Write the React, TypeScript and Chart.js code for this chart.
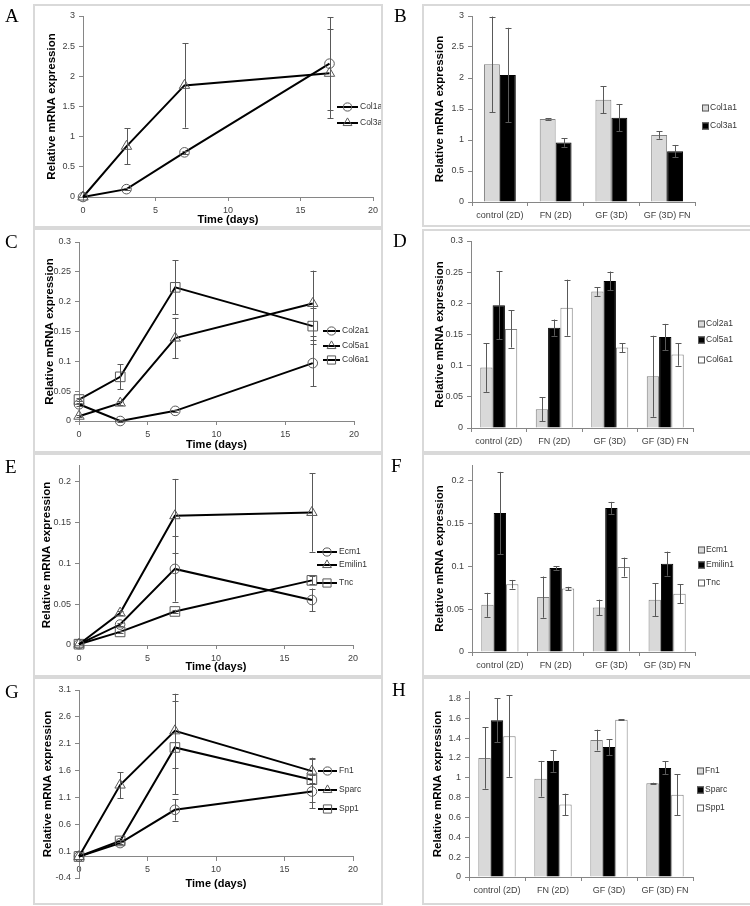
import React, { useEffect, useRef } from 'react';
import { Chart, registerables } from 'chart.js';

Chart.register(...registerables);

const SANS = "'Liberation Sans', Arial, Helvetica, sans-serif";
const SERIF = "'Liberation Serif', 'Times New Roman', serif";
const AXIS_COLOR = '#868686';
const TICK_COLOR = '#404040';
const ERR_COLOR = '#595959';

// ---------- shared categories / ticks ----------
const DAYS = [0, 3, 7, 17];
const DAY_TICKS = [0, 5, 10, 15, 20];
const GROUPS = ['control (2D)', 'FN (2D)', 'GF (3D)', 'GF (3D) FN'];
const Y_TITLE = 'Relative mRNA expression';
const X_TITLE = 'Time (days)';

// ---------- Panel A ----------
const A_LABELS = ['Col1a', 'Col3a'];
const A_COL1A = [0, 0.13, 0.74, 2.21];
const A_COL1A_ERR = [0, 0.02, 0.03, 0.77];
const A_COL3A = [0, 0.84, 1.85, 2.05];
const A_COL3A_ERR = [0, 0.3, 0.7, 0.74];
const A_Y_TICKS = [0, 0.5, 1, 1.5, 2, 2.5, 3];

// ---------- Panel B ----------
const B_LABELS = ['Col1a1', 'Col3a1'];
const B_COL1A1 = [2.22, 1.34, 1.65, 1.08];
const B_COL1A1_ERR = [0.77, 0.01, 0.22, 0.06];
const B_COL3A1 = [2.05, 0.96, 1.36, 0.82];
const B_COL3A1_ERR = [0.76, 0.07, 0.22, 0.1];
const B_Y_TICKS = [0, 0.5, 1, 1.5, 2, 2.5, 3];

// ---------- Panel C ----------
const C_LABELS = ['Col2a1', 'Col5a1', 'Col6a1'];
const C_COL2A1 = [0.028, 0.0, 0.017, 0.097];
const C_COL2A1_ERR = [0.003, 0.001, 0.002, 0.039];
const C_COL5A1 = [0.008, 0.03, 0.139, 0.197];
const C_COL5A1_ERR = [0.002, 0.003, 0.034, 0.055];
const C_COL6A1 = [0.036, 0.074, 0.224, 0.159];
const C_COL6A1_ERR = [0.003, 0.021, 0.045, 0.03];
const C_Y_TICKS = [0, 0.05, 0.1, 0.15, 0.2, 0.25, 0.3];

// ---------- Panel D ----------
const D_LABELS = ['Col2a1', 'Col5a1', 'Col6a1'];
const D_COL2A1 = [0.097, 0.03, 0.219, 0.083];
const D_COL2A1_ERR = [0.039, 0.019, 0.007, 0.065];
const D_COL5A1 = [0.197, 0.161, 0.236, 0.146];
const D_COL5A1_ERR = [0.055, 0.013, 0.015, 0.021];
const D_COL6A1 = [0.159, 0.193, 0.129, 0.118];
const D_COL6A1_ERR = [0.03, 0.045, 0.007, 0.018];
const D_Y_TICKS = [0, 0.05, 0.1, 0.15, 0.2, 0.25, 0.3];

// ---------- Panel E ----------
const E_LABELS = ['Ecm1', 'Emilin1', 'Tnc'];
const E_ECM1 = [0.001, 0.025, 0.093, 0.055];
const E_ECM1_ERR = [0, 0.002, 0.04, 0.014];
const E_EMILIN1 = [0.001, 0.039, 0.158, 0.162];
const E_EMILIN1_ERR = [0, 0.002, 0.045, 0.048];
const E_TNC = [0.001, 0.016, 0.041, 0.079];
const E_TNC_ERR = [0, 0.001, 0.002, 0.005];
const E_Y_TICKS = [0, 0.05, 0.1, 0.15, 0.2];

// ---------- Panel F ----------
const F_LABELS = ['Ecm1', 'Emilin1', 'Tnc'];
const F_ECM1 = [0.055, 0.064, 0.052, 0.061];
const F_ECM1_ERR = [0.014, 0.024, 0.009, 0.019];
const F_EMILIN1 = [0.162, 0.098, 0.168, 0.103];
const F_EMILIN1_ERR = [0.048, 0.002, 0.007, 0.014];
const F_TNC = [0.079, 0.074, 0.099, 0.068];
const F_TNC_ERR = [0.005, 0.002, 0.011, 0.011];
const F_Y_TICKS = [0, 0.05, 0.1, 0.15, 0.2];

// ---------- Panel G ----------
const G_LABELS = ['Fn1', 'Sparc', 'Spp1'];
const G_FN1 = [0, 0.25, 0.87, 1.21];
const G_FN1_ERR = [0, 0.02, 0.2, 0.31];
const G_SPARC = [0, 1.33, 2.34, 1.59];
const G_SPARC_ERR = [0, 0.24, 0.69, 0.22];
const G_SPP1 = [0, 0.29, 2.03, 1.43];
const G_SPP1_ERR = [0, 0.02, 0.87, 0.41];
const G_Y_TICKS = [-0.4, 0.1, 0.6, 1.1, 1.6, 2.1, 2.6, 3.1];

// ---------- Panel H ----------
const H_LABELS = ['Fn1', 'Sparc', 'Spp1'];
const H_FN1 = [1.2, 0.99, 1.38, 0.945];
const H_FN1_ERR = [0.31, 0.18, 0.105, 0.005];
const H_SPARC = [1.58, 1.17, 1.31, 1.1];
const H_SPARC_ERR = [0.22, 0.11, 0.08, 0.065];
const H_SPP1 = [1.42, 0.73, 1.585, 0.83];
const H_SPP1_ERR = [0.41, 0.11, 0.003, 0.205];
const H_Y_TICKS = [0, 0.2, 0.4, 0.6, 0.8, 1, 1.2, 1.4, 1.6, 1.8];

// ---------- styles ----------
const BAR_STYLES = [
  { fill: '#d9d9d9', border: '#7f7f7f' },
  { fill: '#000000', border: '#000000' },
  { fill: '#ffffff', border: '#7f7f7f' },
];
const MARKER_R: any = { circle: 4.8, triangle: 6, rect: 6.8 };

// ---------- plugins ----------
const errorBarsPlugin = {
  id: 'errorBars',
  afterDatasetsDraw(chart: any) {
    const ctx = chart.ctx;
    const yScale = chart.scales.y;
    chart.data.datasets.forEach((ds: any, i: number) => {
      if (!ds.errors) return;
      const meta = chart.getDatasetMeta(i);
      meta.data.forEach((el: any, j: number) => {
        const raw = ds.data[j];
        const v = typeof raw === 'number' ? raw : raw.y;
        const e = ds.errors[j];
        if (!e) return;
        const x = Math.round(el.x) + 0.5;
        const yTop = yScale.getPixelForValue(v + e);
        const yBot = yScale.getPixelForValue(v - e);
        ctx.save();
        ctx.strokeStyle = ERR_COLOR;
        ctx.lineWidth = 1;
        ctx.beginPath();
        ctx.moveTo(x, yTop);
        ctx.lineTo(x, yBot);
        ctx.moveTo(x - 3, Math.round(yTop) + 0.5);
        ctx.lineTo(x + 3, Math.round(yTop) + 0.5);
        ctx.moveTo(x - 3, Math.round(yBot) + 0.5);
        ctx.lineTo(x + 3, Math.round(yBot) + 0.5);
        ctx.stroke();
        ctx.restore();
      });
    });
  },
};

function drawMarker(ctx: any, kind: string, x: number, y: number, r: number) {
  ctx.beginPath();
  if (kind === 'circle') {
    ctx.arc(x, y, r, 0, Math.PI * 2);
  } else if (kind === 'triangle') {
    ctx.moveTo(x, y - r);
    ctx.lineTo(x + 0.866 * r, y + 0.5 * r);
    ctx.lineTo(x - 0.866 * r, y + 0.5 * r);
    ctx.closePath();
  } else {
    const s = r * Math.SQRT1_2;
    ctx.rect(x - s, y - s, 2 * s, 2 * s);
  }
  ctx.stroke();
}

function legendPlugin(spec: any) {
  return {
    id: 'panelLegend',
    afterDraw(chart: any) {
      const ctx = chart.ctx;
      const lg = spec.legend;
      ctx.save();
      ctx.font = `8.5px ${SANS}`;
      ctx.textBaseline = 'middle';
      ctx.textAlign = 'left';
      spec.series.forEach((s: any, i: number) => {
        const y = lg.ys[i];
        if (spec.kind === 'line') {
          ctx.strokeStyle = '#000';
          ctx.lineWidth = 2;
          ctx.beginPath();
          ctx.moveTo(lg.x0, y);
          ctx.lineTo(lg.x1, y);
          ctx.stroke();
          ctx.strokeStyle = '#595959';
          ctx.lineWidth = 1;
          drawMarker(ctx, s.marker, (lg.x0 + lg.x1) / 2, y, MARKER_R[s.marker] * 0.85);
        } else {
          const st = BAR_STYLES[i];
          ctx.fillStyle = st.fill;
          ctx.fillRect(lg.bx, y - 3.5, 7, 7);
          ctx.strokeStyle = '#595959';
          ctx.lineWidth = 1;
          ctx.strokeRect(lg.bx + 0.5, y - 3, 6, 6);
        }
        ctx.fillStyle = '#333';
        ctx.fillText(s.label, lg.tx, y);
      });
      ctx.restore();
    },
  };
}

// ---------- axis builders ----------
function yAxis(spec: any) {
  const lh = 11.5 * 1.2;
  return {
    type: 'linear',
    position: 'left',
    min: spec.yMin,
    max: spec.yMax,
    afterBuildTicks: (s: any) => {
      s.ticks = spec.yTicks.map((v: number) => ({ value: v }));
    },
    afterFit: (s: any) => {
      s.width = spec.area.l;
    },
    ticks: {
      callback: (v: any) => String(v),
      font: { family: SANS, size: 9 },
      color: TICK_COLOR,
      padding: 4,
      autoSkip: false,
    },
    grid: { drawOnChartArea: false, drawTicks: true, tickLength: 4, color: AXIS_COLOR },
    border: { display: true, color: AXIS_COLOR, width: 1 },
    title: {
      display: true,
      text: Y_TITLE,
      color: '#000',
      font: { family: SANS, size: 11.5, weight: 'bold' },
      padding: { top: spec.yTitleX - lh / 2, bottom: 0 },
    },
  };
}

function lineConfig(spec: any) {
  const { w, h } = spec.frame;
  const a = spec.area;
  const xH = spec.xAtZero ? 34 : h - a.b;
  const lh = 11 * 1.2;
  return {
    type: 'line',
    data: {
      datasets: spec.series.map((s: any) => ({
        label: s.label,
        data: DAYS.map((d, i) => ({ x: d, y: s.values[i] })),
        errors: s.errors,
        borderColor: '#000',
        borderWidth: 2,
        pointStyle: s.marker,
        pointRadius: MARKER_R[s.marker],
        pointBorderColor: '#595959',
        pointBorderWidth: 1,
        pointBackgroundColor: 'rgba(0,0,0,0)',
        tension: 0,
        fill: false,
        clip: false,
      })),
    },
    options: {
      responsive: false,
      animation: false,
      devicePixelRatio: 1,
      events: [],
      layout: {
        padding: { left: 0, top: a.t, right: w - a.r, bottom: spec.xAtZero ? h - a.b : 0 },
      },
      plugins: { legend: { display: false }, tooltip: { enabled: false } },
      scales: {
        x: {
          type: 'linear',
          min: 0,
          max: 20,
          position: spec.xAtZero ? { y: 0 } : 'bottom',
          afterBuildTicks: (s: any) => {
            s.ticks = DAY_TICKS.map((v) => ({ value: v }));
          },
          afterFit: (s: any) => {
            s.height = xH;
          },
          ticks: { font: { family: SANS, size: 9 }, color: TICK_COLOR, padding: 4, maxRotation: 0 },
          grid: { drawOnChartArea: false, drawTicks: true, tickLength: 4, color: AXIS_COLOR },
          border: { display: true, color: AXIS_COLOR, width: 1 },
          title: {
            display: true,
            text: X_TITLE,
            color: '#000',
            font: { family: SANS, size: 11, weight: 'bold' },
            padding: { top: 0, bottom: Math.max(0, xH - lh / 2 - spec.xTitleDy) },
          },
        },
        y: yAxis(spec),
      },
    },
    plugins: [errorBarsPlugin, legendPlugin(spec)],
  };
}

function barConfig(spec: any) {
  const { w, h } = spec.frame;
  const a = spec.area;
  const n = spec.series.length;
  return {
    type: 'bar',
    data: {
      labels: GROUPS,
      datasets: spec.series.map((s: any, i: number) => ({
        label: s.label,
        data: s.values,
        errors: s.errors,
        backgroundColor: BAR_STYLES[i].fill,
        borderColor: BAR_STYLES[i].border,
        borderWidth: 1,
        categoryPercentage: n / (n + 1.5),
        barPercentage: 1,
      })),
    },
    options: {
      responsive: false,
      animation: false,
      devicePixelRatio: 1,
      events: [],
      layout: { padding: { left: 0, top: a.t, right: w - a.r, bottom: 0 } },
      plugins: { legend: { display: false }, tooltip: { enabled: false } },
      scales: {
        x: {
          type: 'category',
          offset: true,
          afterFit: (s: any) => {
            s.height = h - a.b;
          },
          ticks: { font: { family: SANS, size: 9 }, color: TICK_COLOR, padding: 4, maxRotation: 0, autoSkip: false },
          grid: { offset: true, drawOnChartArea: false, drawTicks: true, tickLength: 4, color: AXIS_COLOR },
          border: { display: true, color: AXIS_COLOR, width: 1 },
        },
        y: yAxis(spec),
      },
    },
    plugins: [errorBarsPlugin, legendPlugin(spec)],
  };
}

// ---------- panel specs ----------
const PANELS: any[] = [
  {
    kind: 'line', letter: 'A', letterX: 5, letterY: 16,
    frame: { x: 33, y: 4, w: 350, h: 224 }, area: { l: 50, r: 340, t: 12, b: 193 },
    yMin: 0, yMax: 3, yTicks: A_Y_TICKS, yTitleX: 19, xTitleDy: 23,
    series: [
      { label: A_LABELS[0], values: A_COL1A, errors: A_COL1A_ERR, marker: 'circle' },
      { label: A_LABELS[1], values: A_COL3A, errors: A_COL3A_ERR, marker: 'triangle' },
    ],
    legend: { x0: 304, x1: 325, tx: 327, ys: [103, 119] },
  },
  {
    kind: 'bar', letter: 'B', letterX: 394, letterY: 16,
    frame: { x: 422, y: 4, w: 330, h: 223 }, area: { l: 50, r: 273, t: 12, b: 198 },
    yMin: 0, yMax: 3, yTicks: B_Y_TICKS, yTitleX: 18,
    series: [
      { label: B_LABELS[0], values: B_COL1A1, errors: B_COL1A1_ERR },
      { label: B_LABELS[1], values: B_COL3A1, errors: B_COL3A1_ERR },
    ],
    legend: { bx: 280, tx: 288, ys: [104, 122] },
  },
  {
    kind: 'line', letter: 'C', letterX: 5, letterY: 242,
    frame: { x: 33, y: 228, w: 350, h: 225 }, area: { l: 46, r: 321, t: 14, b: 193 },
    yMin: 0, yMax: 0.3, yTicks: C_Y_TICKS, yTitleX: 17, xTitleDy: 24,
    series: [
      { label: C_LABELS[0], values: C_COL2A1, errors: C_COL2A1_ERR, marker: 'circle' },
      { label: C_LABELS[1], values: C_COL5A1, errors: C_COL5A1_ERR, marker: 'triangle' },
      { label: C_LABELS[2], values: C_COL6A1, errors: C_COL6A1_ERR, marker: 'rect' },
    ],
    legend: { x0: 290, x1: 307, tx: 309, ys: [103, 118, 132] },
  },
  {
    kind: 'bar', letter: 'D', letterX: 393, letterY: 241,
    frame: { x: 422, y: 229, w: 330, h: 224 }, area: { l: 49, r: 271, t: 12, b: 199 },
    yMin: 0, yMax: 0.3, yTicks: D_Y_TICKS, yTitleX: 18,
    series: [
      { label: D_LABELS[0], values: D_COL2A1, errors: D_COL2A1_ERR },
      { label: D_LABELS[1], values: D_COL5A1, errors: D_COL5A1_ERR },
      { label: D_LABELS[2], values: D_COL6A1, errors: D_COL6A1_ERR },
    ],
    legend: { bx: 276, tx: 284, ys: [95, 111, 131] },
  },
  {
    kind: 'line', letter: 'E', letterX: 5, letterY: 467,
    frame: { x: 33, y: 453, w: 350, h: 224 }, area: { l: 46, r: 320, t: 12, b: 192 },
    yMin: 0, yMax: 0.22, yTicks: E_Y_TICKS, yTitleX: 14, xTitleDy: 22,
    series: [
      { label: E_LABELS[0], values: E_ECM1, errors: E_ECM1_ERR, marker: 'circle' },
      { label: E_LABELS[1], values: E_EMILIN1, errors: E_EMILIN1_ERR, marker: 'triangle' },
      { label: E_LABELS[2], values: E_TNC, errors: E_TNC_ERR, marker: 'rect' },
    ],
    legend: { x0: 284, x1: 304, tx: 306, ys: [99, 112, 130] },
  },
  {
    kind: 'bar', letter: 'F', letterX: 391, letterY: 466,
    frame: { x: 422, y: 453, w: 330, h: 224 }, area: { l: 50, r: 273, t: 12, b: 199 },
    yMin: 0, yMax: 0.218, yTicks: F_Y_TICKS, yTitleX: 18,
    series: [
      { label: F_LABELS[0], values: F_ECM1, errors: F_ECM1_ERR },
      { label: F_LABELS[1], values: F_EMILIN1, errors: F_EMILIN1_ERR },
      { label: F_LABELS[2], values: F_TNC, errors: F_TNC_ERR },
    ],
    legend: { bx: 276, tx: 284, ys: [97, 112, 130] },
  },
  {
    kind: 'line', letter: 'G', letterX: 5, letterY: 692,
    frame: { x: 33, y: 677, w: 350, h: 228 }, area: { l: 46, r: 320, t: 13, b: 201 },
    yMin: -0.4, yMax: 3.1, yTicks: G_Y_TICKS, yTitleX: 15, xTitleDy: 27, xAtZero: true,
    series: [
      { label: G_LABELS[0], values: G_FN1, errors: G_FN1_ERR, marker: 'circle' },
      { label: G_LABELS[1], values: G_SPARC, errors: G_SPARC_ERR, marker: 'triangle' },
      { label: G_LABELS[2], values: G_SPP1, errors: G_SPP1_ERR, marker: 'rect' },
    ],
    legend: { x0: 285, x1: 304, tx: 306, ys: [94, 113, 132] },
  },
  {
    kind: 'bar', letter: 'H', letterX: 392, letterY: 690,
    frame: { x: 422, y: 677, w: 330, h: 228 }, area: { l: 47, r: 271, t: 14, b: 200 },
    yMin: 0, yMax: 1.875, yTicks: H_Y_TICKS, yTitleX: 16,
    series: [
      { label: H_LABELS[0], values: H_FN1, errors: H_FN1_ERR },
      { label: H_LABELS[1], values: H_SPARC, errors: H_SPARC_ERR },
      { label: H_LABELS[2], values: H_SPP1, errors: H_SPP1_ERR },
    ],
    legend: { bx: 275, tx: 283, ys: [94, 113, 131] },
  },
];

function Panel({ spec }: { spec: any }) {
  const ref = useRef<HTMLCanvasElement>(null);
  useEffect(() => {
    const cfg = spec.kind === 'line' ? lineConfig(spec) : barConfig(spec);
    const chart = new Chart(ref.current as HTMLCanvasElement, cfg as any);
    return () => chart.destroy();
  }, [spec]);
  const f = spec.frame;
  return (
    <>
      <canvas
        ref={ref}
        width={f.w}
        height={f.h}
        style={{ position: 'absolute', left: f.x, top: f.y, width: f.w, height: f.h }}
      />
      <div
        style={{
          position: 'absolute', left: f.x, top: f.y, width: f.w, height: f.h,
          border: '2px solid #d9d9d9', boxSizing: 'border-box', pointerEvents: 'none',
        }}
      />
      <div
        style={{
          position: 'absolute', left: spec.letterX, top: spec.letterY - 9.6,
          fontFamily: SERIF, fontSize: 19, lineHeight: '19px', color: '#000',
        }}
      >
        {spec.letter}
      </div>
    </>
  );
}

export default function App() {
  return (
    <div
      style={{
        position: 'absolute', left: 0, top: 0, width: 750, height: 906,
        background: '#fff', overflow: 'hidden',
      }}
    >
      {PANELS.map((p) => (
        <Panel key={p.letter} spec={p} />
      ))}
    </div>
  );
}
